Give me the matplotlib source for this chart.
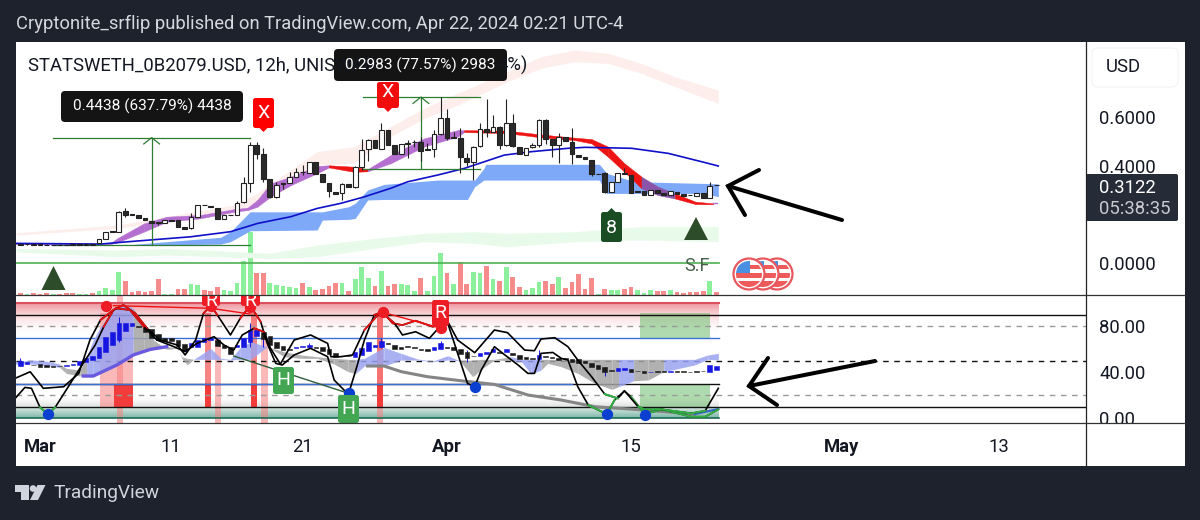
import numpy as np
import matplotlib
matplotlib.use("Agg")
import matplotlib.pyplot as plt
from matplotlib.patches import Rectangle, Circle, Polygon, FancyBboxPatch

plt.rcParams['font.family'] = ['Roboto', 'DejaVu Sans']

# candles, one per 12h bar, bar 0 = Mar 1
first_bar = -3
candle_open = [.079,.078,.077,.076,.075,.075,.075,.075,.075,.075,.075,.076,.084,.101,.132,.129,.214,.202,.196,.184,.173,.166,.163,.177,.176,.150,.143,.191,.240,.235,.225,.181,.199,.199,.250,.328,.488,.449,.345,.273,.328,.330,.355,.376,.370,.415,.365,.330,.294,.287,.327,.312,.397,.469,.507,.471,.548,.485,.449,.496,.500,.500,.469,.469,.532,.596,.518,.515,.434,.418,.482,.551,.541,.562,.486,.579,.480,.445,.477,.486,.589,.510,.488,.518,.500,.447,.438,.425,.369,.371,.294,.335,.370,.363,.297,.297,.279,.301,.287,.279,.294,.284,.282,.277,.288,.269,.322]
candle_close = [.076,.077,.076,.075,.074,.074,.074,.074,.075,.075,.076,.077,.101,.129,.129,.211,.198,.199,.185,.176,.167,.167,.176,.174,.150,.141,.191,.240,.238,.232,.183,.200,.196,.246,.328,.488,.449,.346,.273,.323,.324,.355,.375,.374,.415,.367,.332,.297,.284,.326,.313,.397,.466,.507,.473,.548,.486,.449,.489,.491,.498,.463,.466,.532,.596,.514,.515,.436,.418,.480,.551,.541,.562,.486,.579,.482,.448,.475,.485,.589,.511,.486,.518,.503,.448,.438,.427,.365,.367,.293,.332,.370,.365,.290,.291,.279,.302,.287,.282,.295,.284,.277,.279,.287,.269,.319,.320]
candle_high = [.083,.080,.079,.078,.077,.076,.077,.076,.076,.076,.077,.078,.101,.129,.132,.214,.225,.202,.196,.184,.173,.167,.176,.177,.176,.150,.205,.240,.240,.235,.225,.200,.199,.257,.356,.500,.500,.473,.345,.335,.328,.376,.390,.404,.415,.415,.365,.330,.294,.328,.327,.400,.511,.510,.507,.576,.548,.485,.489,.507,.507,.521,.493,.548,.683,.635,.541,.555,.452,.482,.576,.675,.610,.565,.675,.614,.480,.475,.496,.592,.592,.510,.537,.518,.555,.447,.438,.425,.369,.374,.332,.370,.390,.363,.297,.297,.302,.301,.287,.295,.294,.284,.282,.287,.288,.335,.322]
candle_low = [.074,.075,.074,.074,.073,.073,.073,.073,.074,.074,.074,.075,.081,.101,.129,.126,.191,.199,.185,.176,.167,.155,.163,.174,.150,.141,.141,.191,.238,.232,.183,.181,.196,.198,.246,.294,.427,.335,.266,.266,.304,.328,.353,.363,.370,.367,.332,.273,.284,.260,.313,.308,.383,.422,.473,.469,.486,.449,.449,.431,.480,.422,.466,.436,.528,.507,.514,.372,.400,.342,.480,.521,.539,.469,.482,.480,.448,.445,.475,.477,.491,.438,.414,.503,.408,.438,.427,.359,.367,.287,.294,.335,.365,.290,.291,.279,.279,.287,.282,.279,.284,.277,.279,.277,.269,.269,.320]

# volume, red/green follows the candle direction as published
volume = [2,1,2,1,2,1,1,2,2,1,1,2,4,7,5,23,14,3,4,3,4,16,1,1,6,6,11,10,5,4,8,5,4,12,34,63,22,22,12,10,9,8,7,12,8,5,6,9,12,12,4,16,28,17,9,24,9,11,11,10,4,17,4,19,42,22,11,33,11,23,22,29,16,14,28,18,8,5,7,13,14,11,18,7,13,21,6,17,1,6,5,5,6,8,5,2,5,4,4,5,3,2,3,3,4,14,3]
volume_up = [0,1,0,0,0,1,0,0,0,1,1,0,1,1,1,1,0,0,0,0,0,0,1,1,0,0,1,1,0,0,0,1,1,1,1,1,0,0,1,1,1,1,1,0,1,0,0,0,0,1,0,1,1,1,0,1,0,0,1,1,1,0,1,1,1,0,1,0,0,1,1,0,1,0,1,0,0,1,1,1,0,0,1,0,0,0,0,0,1,0,1,1,0,0,1,1,1,0,0,1,0,0,0,0,0,1,0]

# moving average, and ribbon / cloud outlines read per bar
ma_bars = [-3.8,9.2,11.7,16.8,22.9,29,33.1,38.2,42.2,45.8,49.4,53.4,56,60.6,64.6,70.7,74.8,80.4,83,90.1,95.7,101.3,103.3]
ma_values = [.081,.078,.084,.095,.108,.129,.163,.191,.225,.246,.273,.308,.335,.363,.390,.445,.459,.473,.477,.473,.452,.414,.400]

kumo_bars = [14.3,27.5,29,32,42.2,43,47,48,49.9,52.4,60.6,65.1,66.2,67.6,67.9,85.2,86.3,90.6,101.3,103.3]
kumo_top = [.077,.106,.129,.211,.211,.211,.232,.246,.301,.324,.342,.342,.342,.390,.407,.407,.370,.335,.328,.326]
kumo_bottom = [.073,.078,.088,.133,.136,.177,.180,.184,.260,.262,.262,.262,.315,.342,.342,.342,.287,.287,.287,.273]

ribbon_bars = [-3.8,10.7,11.7,15.8,19.3,24.4,29.5,31.6,33.1,35.1,38.2,42.2,44,47.8,49.9,53.4,58.5,63.6,64.6,71.2,76.3,81.4,84,86.5,89,91.6,94.1,96.7,99.8,102.5,103.3]
ribbon_top = [.079,.081,.101,.163,.191,.198,.222,.228,.260,.328,.356,.400,.403,.397,.387,.445,.514,.548,.548,.546,.530,.517,.511,.480,.411,.356,.315,.287,.253,.246,.246]
ribbon_bottom = [.077,.078,.084,.129,.170,.184,.211,.218,.232,.273,.321,.370,.394,.376,.378,.411,.480,.521,.540,.535,.518,.507,.493,.438,.376,.308,.280,.266,.243,.242,.242]
ribbon_colour = ['p','p','p','p','p','p','p','p','p','p','p','p','r','r','p','p','p','p','r','r','r','r','r','r','r','d','d','r','r','p','p']

pink_bars = [-3.6,11.7,29.5,32.6,42.2,47.8,52.4,58.5,63.6,71.2,76.3,81.4,86.5,91.6,96.7,103.3]
pink_top = [.125,.156,.239,.280,.459,.480,.548,.638,.700,.789,.851,.878,.865,.823,.768,.713]
pink_bottom = [.115,.143,.205,.232,.404,.411,.507,.596,.651,.748,.803,.830,.823,.782,.727,.658]

mint_bars = [-3.6,11.7,19.3,35,42.2,50.9,58.5,66.2,71.2,81.4,91.6,103.3]
mint_top = [.060,.053,.060,.040,.074,.101,.122,.129,.122,.129,.150,.150]
mint_bottom = [.046,.026,.033,.019,.026,.060,.088,.081,.067,.088,.095,.088]

# price range measures: first bar, last bar, arrow bar, low, high
measure_one = [2, 32, 17, .074, .517]
measure_two = [49.2, 67, 58, .387, .684]

# oscillator candles
osc_open = [45.2,47.2,46.3,46.9,45.8,45.2,45.2,45.2,45.8,46.1,48.4,50.4,51.9,57.1,63.5,67.8,75.9,80,80,79.4,77.1,73,69.8,69.2,67.8,64.3,61.4,62,65.8,67.8,67.8,63.5,62,61.4,61.4,65.8,71.3,74.5,71,66.4,62.9,60.3,60.8,62,61.4,62,61.4,59.7,56.8,54.2,54.2,53.3,54.8,58.2,61.4,62,65.5,63.5,62,62.3,61.7,60.3,59.7,59.1,60.3,61.4,61.4,60.3,57.6,54.2,53.9,55.6,57.1,57.6,57.4,56.8,54.8,53.3,52.1,51.3,53.6,52.7,51.9,51.9,51.3,51,49.5,47.5,46.1,44,41.4,40.8,41.7,42.3,41.1,40.8,39.7,40.5,40.5,40.3,40.5,40.5,40.3,40.8,41.1,40.3,41.7]
osc_close = [49.8,48.4,45.8,44.6,44.6,44.6,44.9,46.1,46.9,49.5,51.9,54.2,62,70.7,74.5,82.9,82.9,82.6,79.4,75,69.8,67.8,66.9,67.2,62.9,58.2,64.9,67.8,69.8,69.5,62.6,60.6,55.6,63.5,69.2,76.5,76.5,68.7,63.5,60.6,59.1,59.1,61.4,62.6,63.5,60.8,58.5,55.6,52.7,53.6,53.6,57.1,60.6,66.4,63.5,67.2,64.3,59.7,60.3,61.7,61.1,58.8,58.2,61.4,64.9,60.8,59.1,55.6,51.9,53.6,56.2,57.4,60,56.2,59.7,54.8,51.3,51.3,51.5,54.8,53,52.1,50.4,51,49,48.1,47.5,44,42.9,39.7,40.8,43.4,43.2,40.3,40.5,39.4,40.3,40,40,40.8,40,40,39.7,40.3,40.5,45.8,45.2]
osc_wick_bars = [-3,12,32,34,41,52,61,65,76,86]
osc_wick_low = [45.2,66.3,62,62,60.6,60.6,59.7,49,50.4,36.5]
osc_wick_high = [51.9,88.1,82.3,75,64.9,69.3,66.9,59.1,59.1,44]

# the two black oscillator lines
fast_bars = [-3.8,-2.3,-1.3,0,1.2,2.3,4.3,6.4,8.4,9.7,11.2,12.7,14.5,16.3,18.3,20.9,22.1,23.7,24.9,26,27,29,30.5,32,33.6,34.6,35.9,36.9,38.7,41.2,43.8,44.8,46.3,47,48.1,49.4,50.9,52.2,53.7,55.2,57.2,59.8,62.1,63.6,65.1,66.2,67.2,69.2,70.8,72.8,74.3,75.3,76.3,78.1,79.4,80.4,81.9,83.5,86.3,87.5,89,90,92.1,94.7,99.2,101.3,103.3]
fast_values = [17,26.6,25.8,9.2,3.4,9.2,27.2,46.1,63.5,79.4,93.9,98.3,91,78,67.8,63.5,54.8,67.8,91,97.7,89.6,72.2,86.7,97.7,83.8,64.9,47.5,46.1,54.8,60.6,53.3,33,24.3,21.4,41.7,67.8,89.6,92.5,82.3,80.8,84.6,79.4,82.3,56.2,30.1,27.2,41.7,62,54.8,46.1,38.8,38.8,56.2,57,51.8,50.4,27.2,11.2,3.4,15.6,23.4,18.5,3.4,7.5,1.1,1.1,7.5]
slow_bars = [-3.8,-1.5,.5,3.6,5.9,7.6,9.2,11.5,13.7,15.8,17.8,20.4,22.1,23.9,26.5,28,29.5,30.8,32.6,34.1,35.1,36.6,38.7,41.2,43.8,44.3,45.8,47.6,49.4,51.9,54,55.2,57.2,59.3,61.1,62.1,63.6,66.2,69.2,71.2,73.8,75.3,76.3,78.4,80.4,81.9,84,86,88,89,91.1,92.1,94.7,99.2,101.3,103.3]
slow_values = [34.5,40.2,25.8,27.2,38.8,67.8,85.2,95.4,93.9,79.4,67.8,62,57.7,64.9,70.7,63.5,59.1,72.2,78,75,60.6,46.9,67.8,72.2,64.9,53.3,53.3,54.8,76.5,92.5,82.3,72.2,75,69.3,80.8,83.8,67.8,56.8,76.5,74.2,59.1,58.5,68.7,69.8,62,50.4,35.9,20.8,17,23.7,9.8,7.5,7.5,4,6.3,25.8]

# oscillator cloud, 'b' blue or 'g' grey from each point to the next
cloud_bars = [-3.8,-1,1.5,3,4,6.1,7.1,8.1,9.2,11.2,12.7,14.2,15.8,17.3,19.3,20.9,21.6,22.4,23.4,26,27.5,29,30.5,32.1,34.6,37.2,39.7,42.2,44.8,46.9,48.1,49.4,52.4,55,57.5,59.8,62.1,63.9,65.9,67.4,69.2,71.7,73.3,74.8,76.3,77.3,79.4,81.9,84.5,87.1,88.1,90.4,92.6,95,99.7,101.7,103.3]
cloud_top = [49,50.4,49,46.9,43.2,41.7,53.3,67.8,79.4,93.9,99.1,95.4,80.8,67.8,59.7,60.6,53.3,51.9,51,60.6,51.9,51,61.4,66.4,62,57.6,54.8,53.3,51.9,51,51,51.9,61.4,56.2,51.3,49.5,54.2,49.8,50.4,51,51,53.3,51,51,51,51,51,51,51,51,51,51,51,51,51,54.8,56.2]
cloud_bottom = [46.9,46.9,45.2,44,38.8,36.5,35.9,36.5,38.8,46.1,49,54.8,57.6,59.7,62,61.4,51.9,46.1,51,51,51,50.4,51,51,62,53.3,51.9,51.9,46.9,40.3,38.8,45.2,45.2,50.4,50.4,49,50.4,49.8,35.9,43.2,50.4,49.8,49,38.2,41.7,47.5,44.6,38.8,30.1,24.9,27.2,32.4,33,40.3,46.1,51,50.4]
cloud_colour = ['b','b','b','g','g','g','b','b','b','b','b','g','g','g','g','g','g','g','b','b','b','b','b','b','g','g','g','g','g','g','b','b','b','b','b','b','b','g','g','g','g','b','b','b','g','g','g','g','g','g','b','g','g','b','b','b','b']

purple_bars = [6.6,8.1,11.7,14.2,16.8,19.3]
purple_values = [36.5,36.5,46.1,54.8,59.7,62]
grey_bars = [49.9,52.4,55,59,64.1,69.2,74.3,79.4,84.5,92.1,99.7,103.3]
grey_values = [45.2,45.2,40.3,35.9,32.4,29.2,20,15.6,9.8,6.9,3.4,7.8]

# signal dots
top_bars = [10,26,32,52.2,61.1]
top_values = [97.7,97.7,96.8,91.9,78]
bottom_bars = [1.2,47,66.2,86.3,92.2]
bottom_values = [3.4,21.4,27.2,3.4,2.9]

# shaded signal columns: first bar, last bar, low, high
pale_columns = [(9.2,11.2,10,91),(11.2,14.1,30,91),(11.7,12.6,-4.4,107),(26.7,27.6,-4.4,70.7),(33.7,34.7,-4.4,70.7),(51.3,52.3,-4.4,91)]
mid_columns = [(25.1,26.1,10,91),(32.1,33.1,10,91),(51.3,52.3,10,91)]
solid_columns = [(11.2,14.1,10,30),(25.1,26.1,10,30),(32.1,33.1,10,30),(51.3,52.3,10,30)]

price_ticks = [0.6, 0.4, 0.0]
osc_ticks = [80, 40, 0]
date_bars = [0, 20, 40, 62, 90, 122, 146]
date_labels = ['Mar', '11', '21', 'Apr', '15', 'May', '13']
date_bold = ['Mar', 'Apr', 'May']

DARK = '#1e222d'
BAR_L, BAR_R = -3.66, 159.3
LAST = 103.4

fig = plt.figure(figsize=(12, 5.2), dpi=100, facecolor=DARK)

def px_axes(x0, y0, x1, y1, z):
    return fig.add_axes([x0/1200, 1-y1/520, (x1-x0)/1200, (y1-y0)/520], zorder=z)

# pixel layer behind everything: the white card
back = px_axes(0, 0, 1200, 520, 0)
back.set_xlim(0, 1200)
back.set_ylim(520, 0)
back.axis('off')
back.add_patch(Rectangle((16, 42), 1169, 424, fc='white', ec='none'))

# volume pane shares the price pane area
vol = px_axes(16, 42, 1086, 295, 1)
vol.set_xlim(BAR_L, BAR_R)
vol.set_ylim(0, 253)
vol.axis('off')
bars = np.arange(len(volume)) + first_bar
vol_cols = ['#8bef9c' if u else '#f58b8b' for u in volume_up]
vol.bar(bars, volume, width=0.72, color=vol_cols, lw=0)

# price pane
ax = px_axes(16, 42, 1086, 295, 2)
ax.patch.set_visible(False)
ax.set_xlim(BAR_L, BAR_R)
ax.set_ylim((263-295)/242.5, (263-42)/242.5)
for s in ax.spines.values():
    s.set_visible(False)

ax.fill_between(pink_bars, pink_bottom, pink_top, color='#fdeeec', lw=0)
ax.fill_between(mint_bars, mint_bottom, mint_top, color='#e8fae9', lw=0)
ax.fill_between(kumo_bars, kumo_bottom, kumo_top, color='#7ea8f8', lw=0)

ribbon_cols = {'p': '#b56fd0', 'r': '#ee1414', 'd': '#8a55a8'}
for k in range(len(ribbon_bars)-1):
    ax.fill_between(ribbon_bars[k:k+2], ribbon_bottom[k:k+2], ribbon_top[k:k+2],
                    color=ribbon_cols[ribbon_colour[k]], lw=0.3)

ax.plot(ma_bars, ma_values, color='#1010c8', lw=1.2)
ax.plot([BAR_L, LAST], [0.0, 0.0], color='#4caf50', lw=1.3, alpha=0.9)

# measure tools
for m in [measure_one, measure_two]:
    ax.plot([m[0], m[1]], [m[4], m[4]], color='#2e7d32', lw=0.9)
    ax.plot([m[0], m[1]], [m[3], m[3]], color='#2e7d32', lw=0.9)
    ax.plot([m[2], m[2]], [m[3], m[4]], color='#2e7d32', lw=0.9)
    ax.plot([m[2]-1.2, m[2], m[2]+1.2], [m[4]-.026, m[4], m[4]-.026], color='#2e7d32', lw=0.9)

cb = np.arange(len(candle_open)) + first_bar
ax.vlines(cb, candle_low, candle_high, color='#222222', lw=0.8)
body_b = np.minimum(candle_open, candle_close)
body_h = np.maximum(np.abs(np.array(candle_close)-np.array(candle_open)), 0.002)
body_c = ['white' if c > o else '#2a2a2a' for o, c in zip(candle_open, candle_close)]
ax.bar(cb, body_h, bottom=body_b, width=0.72, color=body_c, edgecolor='#222222', lw=0.8, zorder=3)

ax.yaxis.tick_right()
ax.set_yticks(price_ticks)
ax.set_yticklabels(['%.4f' % t for t in price_ticks], fontsize=13.3, color='#131722')
ax.tick_params(axis='y', length=0, pad=9.4)
ax.set_xticks([])

# oscillator pane
sub = px_axes(16, 296, 1086, 423, 2)
sub.patch.set_visible(False)
sub.set_xlim(BAR_L, BAR_R)
sub_top, sub_bottom = (418-296)/1.15, (418-423)/1.15
for s in sub.spines.values():
    s.set_visible(False)

# gradients at the overbought and oversold ends
def vgrad(c_top, a_top, c_bot, a_bot, v_top, v_bot):
    n = 64
    g = np.zeros((n, 1, 4))
    g[:, 0, :3] = np.linspace(matplotlib.colors.to_rgb(c_top), matplotlib.colors.to_rgb(c_bot), n)
    g[:, 0, 3] = np.linspace(a_top, a_bot, n)
    sub.imshow(g, extent=[BAR_L, LAST, v_bot, v_top], aspect='auto', zorder=0, interpolation='bilinear')

vgrad('#ee8f98', 1, '#ffffff', 0, 100, 72)
vgrad('#ffffff', 0, '#e2e4e2', 1, 20, 10)
vgrad('#e4eeea', 1, '#7db7a8', 1, 10, 0)

for a, b, lo, hi in pale_columns:
    sub.fill_between([a, b], lo, hi, color='#f77f7f', alpha=0.55, lw=0, zorder=1)
for a, b, lo, hi in mid_columns:
    sub.fill_between([a, b], lo, hi, color='#f55a5a', alpha=0.75, lw=0, zorder=1)
for a, b, lo, hi in solid_columns:
    sub.fill_between([a, b], lo, hi, color='#f23c3c', lw=0, zorder=1)

# green zones at the end
for lo, hi in [(70, 91), (10, 30)]:
    sub.fill_between([91.3, 102.1], lo, hi, color='#5fb760', alpha=0.5, lw=0, zorder=1)

for lvl, ls, c, w, end in [(100, '-', '#d9505f', 1.5, LAST), (90, '-', '#111111', 1, BAR_R),
                           (80, (0, (4, 4)), '#9a9a9a', 1, BAR_R), (70, '-', '#3d6fd6', 1, LAST),
                           (50, (0, (4, 4)), '#111111', 1, BAR_R), (30, '-', '#111111', 1, LAST),
                           (20, (0, (4, 4)), '#9a9a9a', 1, BAR_R), (10, '-', '#111111', 1, BAR_R),
                           (0, '-', '#1c6b54', 1.2, LAST)]:
    sub.plot([BAR_L, end], [lvl, lvl], ls=ls, color=c, lw=w, zorder=2)
sub.plot([BAR_L, 81], [30, 30], color='#3d6fd6', lw=1, zorder=2)

for k in range(len(cloud_bars)-1):
    col = '#9aa4f2' if cloud_colour[k] == 'b' else '#a4a4a4'
    sub.fill_between(cloud_bars[k:k+2], cloud_bottom[k:k+2], cloud_top[k:k+2], color=col, alpha=0.85, lw=0, zorder=3)
sub.plot(purple_bars, purple_values, color='#6a5ae0', lw=2.4, zorder=3)
sub.plot(grey_bars[:-1], grey_values[:-1], color='#858585', lw=2.2, zorder=3)
sub.plot(grey_bars[-2:], grey_values[-2:], color='#3367c8', lw=1.6, zorder=3)

ob = np.arange(len(osc_open)) + first_bar
oc = ['#1616e0' if c > o else '#1a1a1a' for o, c in zip(osc_open, osc_close)]
sub.vlines(osc_wick_bars, osc_wick_low, osc_wick_high, color='#1616e0', lw=0.7, zorder=4)
sub.bar(ob, np.abs(np.array(osc_close)-np.array(osc_open)), bottom=np.minimum(osc_open, osc_close),
        width=0.7, color=oc, edgecolor=oc, lw=0.4, zorder=4)

# lines turn red when high and green when low
for xs, ys in [(fast_bars, fast_values), (slow_bars, slow_values)]:
    ys = np.array(ys, dtype=float)
    sub.plot(xs, ys, color='black', lw=1.2, zorder=5)
    sub.plot(xs, np.where(ys >= 75, ys, np.nan), color='#ee1111', lw=1.2, zorder=5)
    sub.plot(xs, np.where(ys <= 21.5, ys, np.nan), color='#33b044', lw=1.4, zorder=5)

# divergence lines between the signal dots
sub.plot([29.5, 47], [53.9, 21.4], color='#2f5d3a', lw=1, zorder=5)
sub.plot([11.2, 26, 32], [97.7, 95.4, 90.4], color='#ee1111', lw=1, zorder=5)
sub.plot([52.2, 61.1], [91.9, 78], color='#ee1111', lw=1, zorder=5)
sub.scatter(top_bars, top_values, s=66, color='#ee1c25', lw=0, zorder=6)
sub.scatter(bottom_bars, bottom_values, s=66, color='#0b3fd0', lw=0, zorder=6)

sub.set_ylim(sub_bottom, sub_top)
sub.set_xlim(BAR_L, BAR_R)
sub.yaxis.tick_right()
sub.set_yticks(osc_ticks)
sub.set_yticklabels(['%.2f' % t for t in osc_ticks], fontsize=13.3, color='#131722')
sub.tick_params(axis='y', length=0, pad=9.4)
sub.set_xticks(date_bars)
sub.set_xticklabels(date_labels, fontsize=13.3, color='#131722')
sub.tick_params(axis='x', length=0, pad=10.5)
for lab in sub.get_xticklabels():
    if lab.get_text() in date_bold:
        lab.set_fontweight('bold')

# top layer in pixels: frame, labels, drawings
top = px_axes(0, 0, 1200, 520, 5)
top.patch.set_visible(False)
top.set_xlim(0, 1200)
top.set_ylim(520, 0)
top.axis('off')

# the zero label runs under the bottom edge of the pane
cut = Rectangle((0, 1-423/520), 1, 423/520, transform=fig.transFigure)
sub.get_yticklabels()[-1].set_clip_path(cut)
sub.get_yticklabels()[-1].set_clip_on(True)

top.plot([1086, 1086], [42, 466], color='#222222', lw=0.9)
top.plot([16, 1185], [295, 295], color='#333333', lw=0.9)
top.plot([16, 1185], [423, 423], color='#333333', lw=0.9)

top.text(16, 24, 'Cryptonite_srflip published on TradingView.com, Apr 22, 2024 02:21 UTC-4',
         color='#d6d8de', fontsize=13.25, va='center', ha='left')
top.text(28, 65, 'STATSWETH_0B2079.USD, 12h, UNISWAP', color='#131722', fontsize=13.3, va='center')
top.text(528, 65, '4%)', color='#131722', fontsize=13.3, va='center', ha='right')

# USD button
top.add_patch(FancyBboxPatch((1092, 48), 86, 39, boxstyle='round,pad=0,rounding_size=6', fc='white', ec='#f3f4f6', lw=0.8))
top.text(1106, 67, 'USD', color='#131722', fontsize=13.3, va='center')

# last price tag
top.add_patch(FancyBboxPatch((1086, 174), 92, 47, boxstyle='round,pad=0,rounding_size=2', fc='#262b38', ec='none'))
top.text(1099, 188, '0.3122', color='white', fontsize=13.3, va='center')
top.text(1099, 209, '05:38:35', color='#c8cad0', fontsize=13.3, va='center')

# measure labels
for x0, y0, x1, y1, s in [(61, 91, 243, 122, '0.4438 (637.79%) 4438'), (334, 49, 507, 81, '0.2983 (77.57%) 2983')]:
    top.add_patch(FancyBboxPatch((x0, y0), x1-x0, y1-y0, boxstyle='round,pad=0,rounding_size=4', fc='#141414', ec='none'))
    top.text((x0+x1)/2, (y0+y1)/2, s, color='white', fontsize=11.1, va='center', ha='center')

def flag_badge(x0, x1, y0, y1, tip, col, s, ty, clip=None):
    p = FancyBboxPatch((x0, y0), x1-x0, y1-y0, boxstyle='round,pad=0,rounding_size=2.5', fc=col, ec='none')
    top.add_patch(p)
    t = top.text((x0+x1)/2, ty, s, color='white', fontsize=14, va='center', ha='center')
    cx = (x0+x1)/2
    if tip is not None:
        tri = Polygon([(cx-4, y1 if tip > y1 else y0), (cx+4, y1 if tip > y1 else y0), (cx, tip)], fc=col, ec='none')
        top.add_patch(tri)
    if clip is not None:
        p.set_clip_path(clip)
        t.set_clip_path(clip)
        t.set_clip_on(True)

flag_badge(253, 274, 98, 128, 132, '#ff0000', 'X', 113)
flag_badge(377, 399, 82, 108, 112, '#f20d0d', 'X', 92)
flag_badge(601, 622, 212, 242, 208, '#1b4d25', '8', 228)

# H and R badges in the lower pane, R ones run off its top edge
pane = Rectangle((16, 296), 1070, 127, transform=top.transData)
flag_badge(273, 294, 367, 394, None, '#43a653', 'H', 380)
flag_badge(338, 359, 395, 423, None, '#43a653', 'H', 409)
flag_badge(202, 220, 290, 306, None, '#ee1c25', 'R', 301, clip=pane)
flag_badge(241, 260, 290, 306, None, '#ee1c25', 'R', 301, clip=pane)
flag_badge(432, 449, 300, 326, None, '#ee1c25', 'R', 313)

# triangles and S.F label
for ax_x, y0, y1 in [(53.5, 266, 290), (696, 217, 240)]:
    top.add_patch(Polygon([(ax_x-12, y1), (ax_x+12, y1), (ax_x, y0)], fc='#2d4d2a', ec='none'))
top.text(697, 266, 'S.F', color='#46604a', fontsize=13, va='center', ha='center')

# flag icons, rightmost first so the left one stays on top
def us_flag(cx, cy, r=15.5):
    top.add_patch(Circle((cx, cy), r, fc='white', ec='#e8585f', lw=1.6))
    clip = Circle((cx, cy), r-2.5, transform=top.transData)
    for y0, h in [(-9, 4), (-1, 4.5), (6.5, 6)]:
        st = top.add_patch(Rectangle((cx-r, cy+y0), 2*r, h, fc='#ef5a5a', ec='none'))
        st.set_clip_path(clip)
    canton = top.add_patch(Rectangle((cx-r, cy-r), r+1, r-1, fc='#4a90e2', ec='none'))
    canton.set_clip_path(clip)

for cx in [777, 763, 749]:
    us_flag(cx, 274)

# hand drawn arrows
for pts in [[(842, 220), (728, 186)], [(759, 170), (728, 186), (745, 215)],
            [(875, 361), (749, 386)], [(768, 358), (749, 386), (777, 405)]]:
    xs, ys = zip(*pts)
    top.plot(xs, ys, color='black', lw=2.9, solid_capstyle='round', solid_joinstyle='miter')

# footer logo
top.add_patch(Polygon([(15, 485), (28.5, 485), (28.5, 500), (21, 500), (21, 492), (15, 492)], fc='#d1d4dc', ec='none'))
top.add_patch(Circle((33, 488.5), 3.3, fc='#d1d4dc', ec='none'))
top.add_patch(Polygon([(37.5, 485), (45.5, 485), (38, 500), (30, 500)], fc='#d1d4dc', ec='none'))
top.text(53, 493, 'TradingView', color='#d1d4dc', fontsize=13.8, va='center')

fig.savefig('out.png', dpi=100, facecolor=DARK)
